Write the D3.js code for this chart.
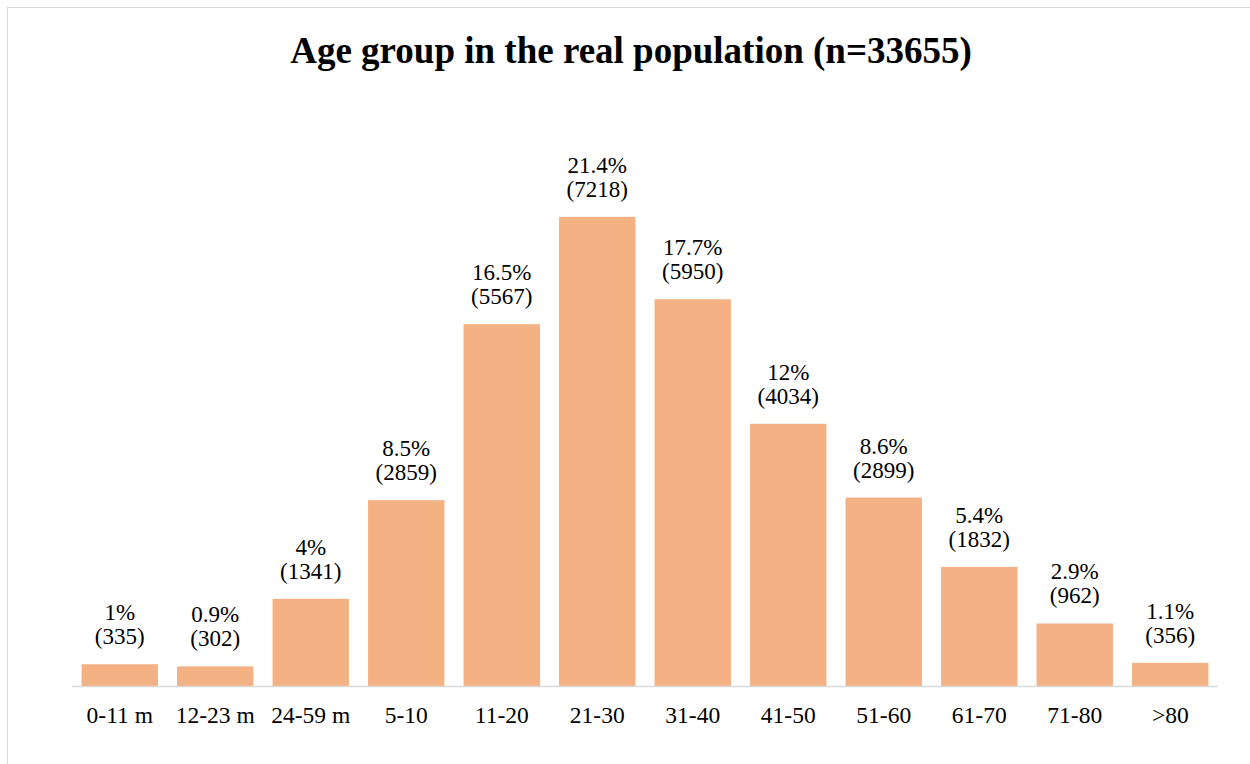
<!DOCTYPE html>
<html>
<head>
<meta charset="utf-8">
<script src="https://cdn.jsdelivr.net/npm/d3@7"></script>
<style>
  html, body { margin: 0; padding: 0; background: #fff; }
  svg { display: block; }
</style>
</head>
<body>
<svg id="chart"></svg>
<script>
const ageGroups = ['0-11 m', '12-23 m', '24-59 m', '5-10', '11-20', '21-30', '31-40', '41-50', '51-60', '61-70', '71-80', '>80'];
const counts = [335, 302, 1341, 2859, 5567, 7218, 5950, 4034, 2899, 1832, 962, 356];
const percents = ['1%', '0.9%', '4%', '8.5%', '16.5%', '21.4%', '17.7%', '12%', '8.6%', '5.4%', '2.9%', '1.1%'];
const titleText = 'Age group in the real population (n=33655)';

const width = 1250, height = 764;
const margin = { left: 72, right: 32, top: 166, bottom: 78 };
const fontFamily = '"Liberation Serif", "Times New Roman", serif';

const svg = d3.select('#chart')
    .attr('width', width)
    .attr('height', height);

// outer frame of the chart area
svg.append('rect')
    .attr('x', 7.5)
    .attr('y', 7.5)
    .attr('width', width + 10)
    .attr('height', height + 10)
    .style('fill', 'none')
    .style('stroke', '#d9d9d9')
    .style('stroke-width', 1);

svg.append('text')
    .text(titleText)
    .attr('x', 631)
    .attr('y', 63)
    .attr('text-anchor', 'middle')
    .style('font-family', fontFamily)
    .style('font-weight', 'bold')
    .style('font-size', '37px')
    .style('fill', '#000');

const x = d3.scaleBand()
    .domain(ageGroups)
    .range([margin.left, width - margin.right])
    .paddingInner(0.2)
    .paddingOuter(0.1);

const y = d3.scaleLinear()
    .domain([0, 8000])
    .range([height - margin.bottom, margin.top]);

const data = ageGroups.map((g, i) => ({ group: g, count: counts[i], pct: percents[i] }));

svg.append('g')
    .selectAll('rect')
    .data(data)
    .enter().append('rect')
    .attr('x', d => x(d.group))
    .attr('y', d => y(d.count))
    .attr('width', x.bandwidth())
    .attr('height', d => y(0) - y(d.count))
    .style('fill', '#f4b183');

// baseline axis
const xAxis = svg.append('g')
    .attr('transform', `translate(0,${y(0)})`)
    .call(d3.axisBottom(x).tickSize(0).tickPadding(20));
xAxis.select('.domain')
    .attr('d', `M${margin.left},0.5H${width - margin.right}`)
    .style('stroke', '#d9d9d9')
    .style('stroke-width', 1.5);
xAxis.selectAll('text')
    .style('font-family', fontFamily)
    .style('font-size', '23.5px')
    .style('fill', '#000');

const labels = svg.append('g')
    .selectAll('text')
    .data(data)
    .enter().append('text')
    .attr('text-anchor', 'middle')
    .style('font-family', fontFamily)
    .style('font-size', '23px')
    .style('fill', '#000');

labels.append('tspan')
    .attr('x', d => x(d.group) + x.bandwidth() / 2)
    .attr('y', d => y(d.count) - 44)
    .text(d => d.pct);
labels.append('tspan')
    .attr('x', d => x(d.group) + x.bandwidth() / 2)
    .attr('y', d => y(d.count) - 20)
    .text(d => `(${d.count})`);
</script>
</body>
</html>
